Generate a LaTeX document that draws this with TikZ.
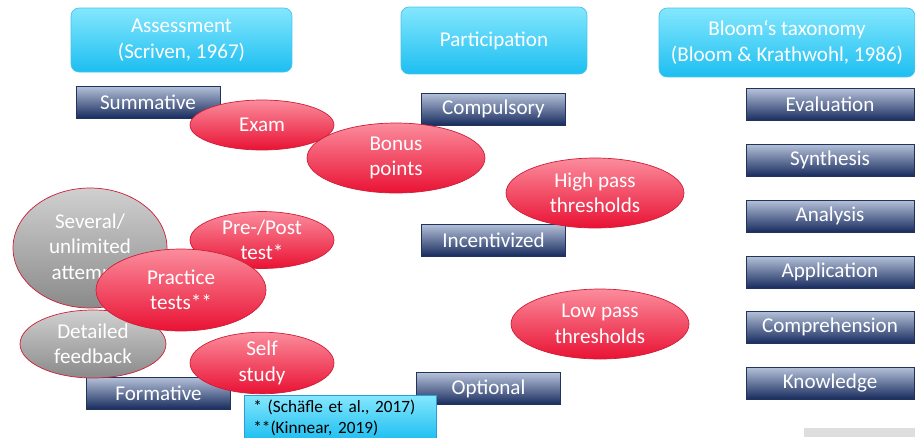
\documentclass[tikz,border=0pt]{standalone}
\usepackage{fontspec}
\setmainfont{Carlito}
\usetikzlibrary{shapes.geometric}

\definecolor{headtop}{RGB}{132,231,253}
\definecolor{headbot}{RGB}{28,190,241}
\definecolor{headline}{RGB}{70,196,236}
\definecolor{boxtop}{RGB}{182,194,218}
\definecolor{boxmid}{RGB}{72,98,150}
\definecolor{boxbot}{RGB}{24,44,94}
\definecolor{boxline}{RGB}{32,52,92}
\definecolor{ovaltop}{RGB}{251,140,156}
\definecolor{ovalbot}{RGB}{233,18,52}
\definecolor{ovalline}{RGB}{206,30,56}
\definecolor{greytop}{RGB}{208,208,208}
\definecolor{greybot}{RGB}{138,138,138}
\definecolor{noteline}{RGB}{40,160,215}
\definecolor{cornergrey}{RGB}{222,222,222}

\begin{document}
\begin{tikzpicture}[x=0.02cm, y=-0.02cm,
		font=\fontsize{12}{14.5}\selectfont,
		head_style/.style={rectangle,rounded corners=0.16cm,draw=headline,top color=headtop,bottom color=headbot,text=white,align=center,inner sep=0pt,font=\fontsize{12}{15}\selectfont},
		box_style/.style={rectangle,draw=boxline,top color=boxtop,middle color=boxmid,bottom color=boxbot,text=white,minimum width=2.88cm,minimum height=0.64cm,inner sep=0pt},
		level_style/.style={box_style,minimum width=3.36cm},
		oval_style/.style={ellipse,draw=ovalline,top color=ovaltop,bottom color=ovalbot,text=white,align=center,inner sep=0pt},
		grey_style/.style={oval_style,top color=greytop,bottom color=greybot},
		note_style/.style={rectangle,draw=noteline,top color=headtop,bottom color=headbot,text=black,align=left,text width=3.48cm,inner xsep=0.18cm,inner ysep=0.1cm,font=\fontsize{9.8}{11.5}\selectfont}]

		\useasboundingbox (0,0) rectangle (915,437);

		% headings
		\node[head_style,minimum width=4.42cm,minimum height=1.28cm] (assess) at (181.5,40) {Assessment\\(Scriven, 1967)};
		\node[head_style,minimum width=3.72cm,minimum height=1.34cm] (partic) at (494,40.5) {Participation};
		\node[head_style,minimum width=5.12cm,minimum height=1.38cm] (bloom) at (787,42.5) {Bloom‘s taxonomy\\(Bloom \& Krathwohl, 1986)};

		% boxes
		\node[box_style] (summ) at (148,102) {Summative};
		\node[box_style] (formt) at (158.5,393) {Formative};
		\node[box_style] (compul) at (493.5,109) {Compulsory};
		\node[box_style] (incent) at (493.5,240) {Incentivized};
		\node[box_style] (option) at (488.5,388.5) {Optional};

		\node[level_style] (evalu) at (830,104.5) {Evaluation};
		\node[level_style] (synth) at (830,160) {Synthesis};
		\node[level_style] (analy) at (830,216) {Analysis};
		\node[level_style] (applic) at (830,272) {Application};
		\node[level_style] (compre) at (830,327) {Comprehension};
		\node[level_style] (knowl) at (830,383) {Knowledge};

		% ovals
		\node[grey_style,minimum width=3.08cm,minimum height=2.4cm] (several) at (90,248) {Several/\\unlimited\\attempts};
		\node[grey_style,minimum width=2.92cm,minimum height=1.36cm] (detail) at (93,344) {Detailed\\feedback};

		\node[oval_style,minimum width=2.88cm,minimum height=1cm] (exam) at (262,125) {Exam};
		\node[oval_style,minimum width=3.56cm,minimum height=1.4cm] (bonus) at (396,158) {Bonus\\points};
		\node[oval_style,minimum width=3.56cm,minimum height=1.4cm] (highpass) at (595,193) {High pass\\thresholds};
		\node[oval_style,minimum width=3.56cm,minimum height=1.4cm] (lowpass) at (600,324) {Low pass\\thresholds};
		\node[oval_style,minimum width=2.88cm,minimum height=1cm] (prepost) at (262,240) {Pre-/Post\\test*};
		\node[oval_style,minimum width=3.4cm,minimum height=1.64cm] (practice) at (181,290) {Practice\\tests**};
		\node[oval_style,minimum width=2.88cm,minimum height=1cm] (selfstudy) at (262,363) {Self\\study};

		% references
		\node[note_style,anchor=north west] (refs) at (244,395) {* (Schäfle et al., 2017)\\\relax**(Kinnear, 2019)};

		\fill[cornergrey] (804,428) rectangle (915,437);

		\end{tikzpicture}
\end{document}
